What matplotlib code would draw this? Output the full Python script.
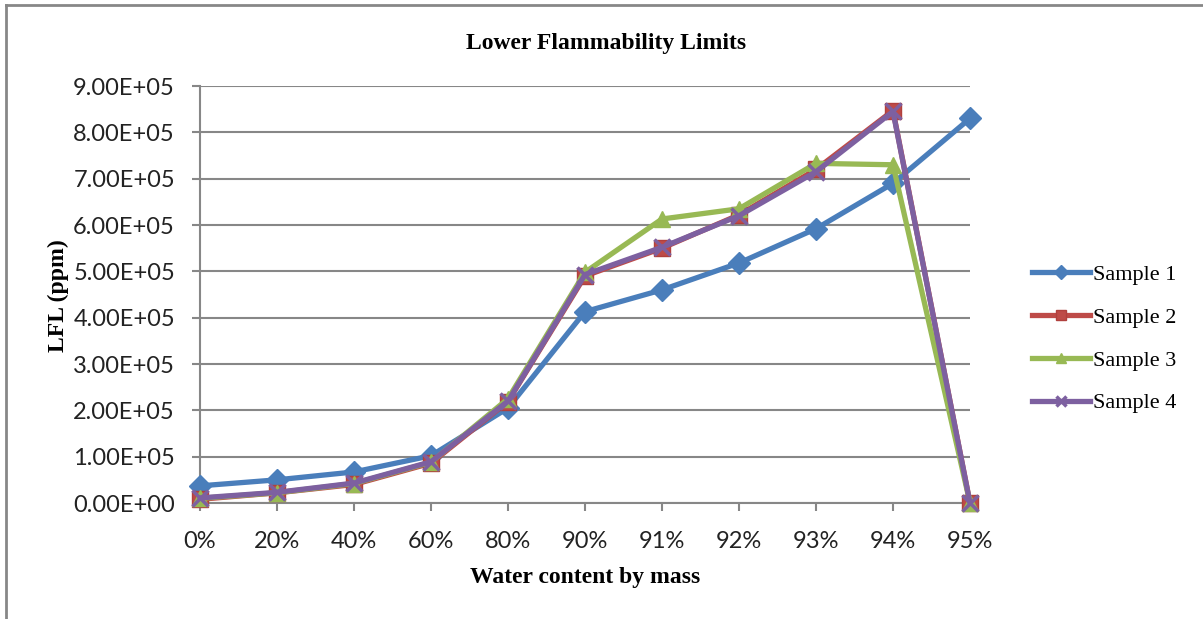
import numpy as np
import matplotlib.pyplot as plt
from matplotlib.lines import Line2D
from matplotlib.ticker import FuncFormatter

# water content categories
categories = ['0%', '20%', '40%', '60%', '80%', '90%', '91%', '92%', '93%', '94%', '95%']

# LFL (ppm)
sample1 = [3.7e4, 5.0e4, 6.7e4, 1.02e5, 2.05e5, 4.13e5, 4.6e5, 5.18e5, 5.92e5, 6.9e5, 8.3e5]
sample2 = [8e3, 2.2e4, 4.0e4, 8.6e4, 2.19e5, 4.9e5, 5.5e5, 6.22e5, 7.2e5, 8.47e5, 0]
sample3 = [1.0e4, 2.2e4, 4.2e4, 8.8e4, 2.25e5, 4.98e5, 6.13e5, 6.35e5, 7.33e5, 7.3e5, 0]
sample4 = [1.1e4, 2.3e4, 4.3e4, 8.9e4, 2.2e5, 4.93e5, 5.52e5, 6.2e5, 7.15e5, 8.45e5, 0]

series_names = ['Sample 1', 'Sample 2', 'Sample 3', 'Sample 4']

W, H = 1203, 619
fig = plt.figure(figsize=(W / 100, H / 100), dpi=100)
ax = fig.add_axes([200 / W, 1 - 503 / H, 770 / W, 417 / H])

grid_col = '#878787'
tick_font = 'Lato'
serif = 'Liberation Serif'

x = np.arange(len(categories))
styles = [
    ('#4A7EBB', 'D', '#4A7EBB', 11),
    ('#BE4B48', 's', '#B0403D', 12),
    ('#98B954', '^', '#98B954', 12),
    ('#7D60A0', 'x', '#7D60A0', 12),
]
for vals, name, (col, mk, ec, ms) in zip([sample1, sample2, sample3, sample4], series_names, styles):
    ax.plot(x, vals, color=col, lw=3.8, marker=mk, markersize=ms,
            markerfacecolor=col, markeredgecolor=ec,
            markeredgewidth=2.5 if mk == 'x' else 1.0,
            label=name, clip_on=False, zorder=3)

ax.set_xlim(0, 10)
ax.set_ylim(0, 9e5)
ax.set_xticks(x)
ax.set_xticklabels(categories)
ax.set_yticks(np.arange(0, 9.01e5, 1e5))
ax.yaxis.set_major_formatter(FuncFormatter(lambda v, p: '%.2E' % v))

ax.yaxis.grid(True, color=grid_col, lw=1.5)
ax.set_axisbelow(True)
for s in ['top', 'right']:
    ax.spines[s].set_visible(False)
for s in ['left', 'bottom']:
    ax.spines[s].set_color(grid_col)
    ax.spines[s].set_linewidth(1.5)

ax.tick_params(axis='both', color=grid_col, width=1.5, length=6,
               labelsize=17, labelcolor='#222222')
ax.tick_params(axis='x', pad=14)
ax.tick_params(axis='y', pad=12)
for lab in ax.get_xticklabels() + ax.get_yticklabels():
    lab.set_fontfamily(tick_font)

fig.text(606 / W, 1 - 43 / H, 'Lower Flammability Limits', ha='center', va='center',
         fontsize=17, fontweight='bold', family=serif)
fig.text(585 / W, 1 - 578 / H, 'Water content by mass', ha='center', va='center',
         fontsize=17, fontweight='bold', family=serif)
fig.text(58 / W, 1 - 296 / H, 'LFL (ppm)', ha='center', va='center', rotation=90,
         fontsize=17, fontweight='bold', family=serif)

leg = ax.legend(loc='center left', bbox_to_anchor=(1012 / W, 1 - 339 / H),
                bbox_transform=fig.transFigure, frameon=False,
                prop={'family': serif, 'size': 16}, labelspacing=1.0,
                handlelength=2.6, handletextpad=0.15, markerscale=0.65)

# chart area border (only top and left visible in the crop)
fig.add_artist(Line2D([6 / W, 6 / W], [0, 1 - 5 / H], transform=fig.transFigure,
                      color=grid_col, lw=2))
fig.add_artist(Line2D([6 / W, 1], [1 - 5 / H, 1 - 5 / H], transform=fig.transFigure,
                      color=grid_col, lw=2))

fig.savefig('out.png', dpi=100)
